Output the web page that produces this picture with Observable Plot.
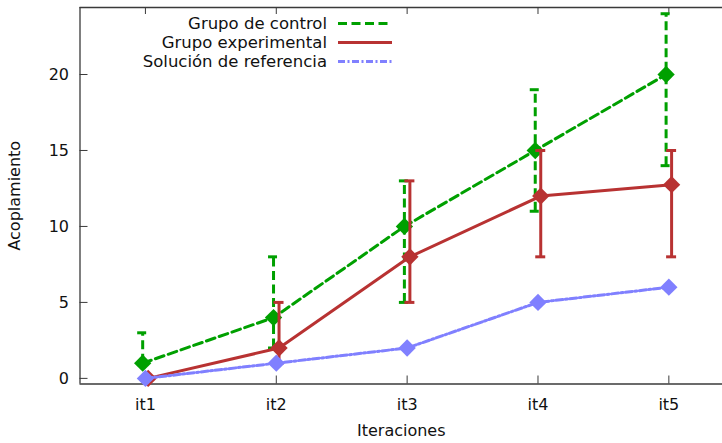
<!DOCTYPE html>
<html><head><meta charset="utf-8">
<script src="https://cdn.jsdelivr.net/npm/d3@7"></script>
<script src="https://cdn.jsdelivr.net/npm/@observablehq/plot@0.6"></script>
<style>
body{margin:0;background:#fff;}
#wrap{position:relative;width:722px;height:443px;font-family:"DejaVu Sans",sans-serif;}
#legend{position:absolute;left:0;top:0;}
</style>
</head><body><div id="wrap"></div>
<script>
// ---- data ----
const iterations = ["it1", "it2", "it3", "it4", "it5"];
const seriesNames = ["Grupo de control", "Grupo experimental", "Solución de referencia"];
const control = [1, 4, 10, 15, 20];
const controlLow = [1, 2, 5, 11, 14];
const controlHigh = [3, 8, 13, 19, 24];
const experimental = [0, 2, 8, 12, 12.75];
const experimentalLow = [0, 1, 5, 8, 8];
const experimentalHigh = [0, 5, 13, 15, 15];
const reference = [0, 1, 2, 5, 6];
const yTicks = [0, 5, 10, 15, 20];

// ---- styles ----
const styles = [
  {color: "#00a000", dash: "9,4.5", offset: -0.021},
  {color: "#b83232", dash: null, offset: 0.021},
  {color: "#8080ff", dash: "7,2.5,2,2.5", offset: 0}
];

const W = 722, H = 443;
const mL = 79.5, mR = 0, mT = 7, mB = 59.5;
const xDomain = [0.5, 5.41];
const yDomain = [-0.37, 24.41];
const kx = (W - mL - mR) / (xDomain[1] - xDomain[0]);
const ky = (H - mT - mB) / (yDomain[1] - yDomain[0]);
const capHalf = 5 / kx;

const valueSets = [
  {v: control, lo: controlLow, hi: controlHigh},
  {v: experimental, lo: experimentalLow, hi: experimentalHigh},
  {v: reference, lo: null, hi: null}
];

const seriesMarks = [];
valueSets.forEach((s, si) => {
  const st = styles[si];
  const rows = s.v.map((y, i) => ({
    x: i + 1 + st.offset, y,
    low: s.lo ? s.lo[i] : null, high: s.hi ? s.hi[i] : null
  }));
  const common = {stroke: st.color, strokeWidth: 3};
  if (st.dash) common.strokeDasharray = st.dash;
  if (s.lo) {
    seriesMarks.push(Plot.ruleX(rows, {x: "x", y1: "low", y2: "high", ...common}));
    seriesMarks.push(Plot.ruleY(rows, {y: "low", x1: d => d.x - capHalf, x2: d => d.x + capHalf, ...common}));
    seriesMarks.push(Plot.ruleY(rows, {y: "high", x1: d => d.x - capHalf, x2: d => d.x + capHalf, ...common}));
  }
  seriesMarks.push(Plot.line(rows, {x: "x", y: "y", ...common, strokeLinejoin: "round"}));
  seriesMarks.push(Plot.dot(rows, {x: "x", y: "y", symbol: "diamond2", r: 7.8, fill: st.color, stroke: "none"}));
});

const axisColor = "#3a3a3a";
const xTickVals = iterations.map((d, i) => i + 1);

const chart = Plot.plot({
  width: W, height: H,
  marginLeft: mL, marginRight: mR, marginTop: mT, marginBottom: mB,
  style: {fontFamily: "DejaVu Sans", fontSize: "16px", color: "#111", background: "#fff"},
  x: {domain: xDomain},
  y: {domain: yDomain},
  marks: [
    // borders
    Plot.ruleY([yDomain[0]], {stroke: axisColor, strokeWidth: 1.3}),
    Plot.ruleY([yDomain[1]], {stroke: axisColor, strokeWidth: 1.3}),
    Plot.ruleX([xDomain[0]], {stroke: axisColor, strokeWidth: 1.3}),
    // inward ticks
    Plot.ruleY(yTicks, {x1: xDomain[0], x2: xDomain[0] + 8 / kx, stroke: axisColor}),
    Plot.ruleX(xTickVals, {y1: yDomain[0], y2: yDomain[0] + 8 / ky, stroke: axisColor}),
    Plot.ruleX(xTickVals, {y1: yDomain[1], y2: yDomain[1] - 7 / ky, stroke: axisColor}),
    Plot.axisY({ticks: yTicks, tickSize: 0, tickPadding: 11, fontSize: 16,
      label: "Acoplamiento", labelAnchor: "center", labelOffset: 71, labelArrow: "none"}),
    Plot.axisX({ticks: xTickVals, tickFormat: i => iterations[i - 1], tickSize: 0, tickPadding: 15, fontSize: 16,
      label: "Iteraciones", labelAnchor: "center", labelOffset: 52, labelArrow: "none"}),
    ...seriesMarks
  ]
});

const wrap = document.getElementById("wrap");
wrap.appendChild(chart);

// ---- legend overlay ----
const leg = d3.select(wrap).append("svg").attr("id", "legend")
  .attr("width", W).attr("height", 90);
const rowsY = [23.5, 42.5, 61.5];
seriesNames.forEach((name, i) => {
  const st = styles[i];
  leg.append("text").attr("x", 327).attr("y", rowsY[i] + 5.5)
    .attr("text-anchor", "end").attr("font-family", "DejaVu Sans").attr("font-size", 16.5)
    .attr("fill", "#111").text(name);
  const ln = leg.append("line").attr("x1", 338).attr("x2", 392).attr("y1", rowsY[i]).attr("y2", rowsY[i])
    .attr("stroke", st.color).attr("stroke-width", 3);
  if (st.dash) ln.attr("stroke-dasharray", st.dash);
});
</script>
</body></html>
